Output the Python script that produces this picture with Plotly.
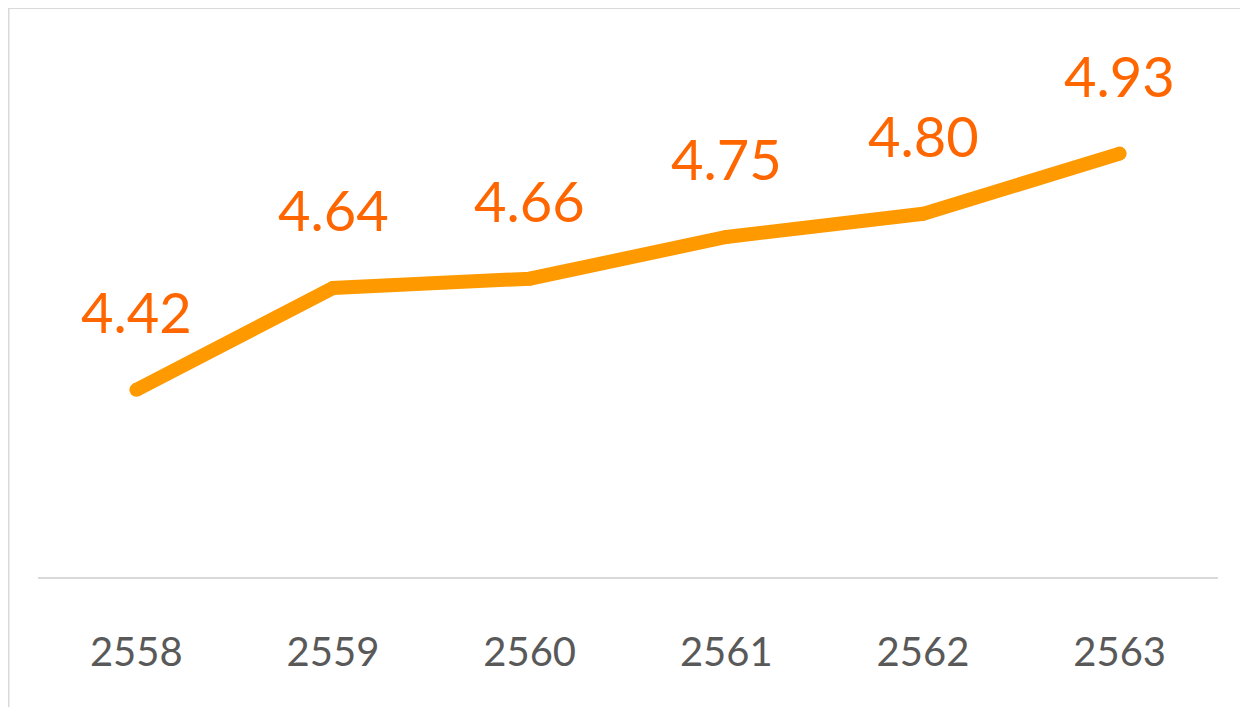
import plotly.graph_objects as go

# data
years = ['2558', '2559', '2560', '2561', '2562', '2563']
values = [4.42, 4.64, 4.66, 4.75, 4.80, 4.93]
labels = ['4.42', '4.64', '4.66', '4.75', '4.80', '4.93']

fig = go.Figure()

fig.add_trace(go.Scatter(
    x=years,
    y=values,
    mode='lines+markers',
    line=dict(color='#ff9900', width=14),
    marker=dict(color='#ff9900', size=14),
    showlegend=False,
    hoverinfo='skip',
))

# data labels above each point (category index, since years look numeric)
for i, (v, lab) in enumerate(zip(values, labels)):
    fig.add_annotation(
        x=i, y=v, text=lab, showarrow=False,
        yshift=78,
        font=dict(family='Lato', size=56, color='#ff6600'),
    )

# light grey frame around the chart
fig.add_shape(
    type='rect', xref='paper', yref='paper',
    x0=-0.025, x1=1.0238, y0=-0.4, y1=1.0035,
    line=dict(color='#d9d9d9', width=2),
    fillcolor='rgba(0,0,0,0)',
)

fig.update_layout(
    width=1248, height=707,
    margin=dict(l=30, r=38, t=2, b=138),
    paper_bgcolor='white',
    plot_bgcolor='white',
    xaxis=dict(
        type='category',
        range=[-0.5, 5.5],
        showgrid=False,
        showline=True,
        linecolor='#d9d9d9',
        linewidth=2,
        ticks='',
        ticklabelstandoff=39,
        tickfont=dict(family='Lato', size=40, color='#595959'),
        zeroline=False,
    ),
    yaxis=dict(
        range=[4.016, 5.24],
        visible=False,
        showgrid=False,
        zeroline=False,
    ),
)

fig.write_html("out.html")
